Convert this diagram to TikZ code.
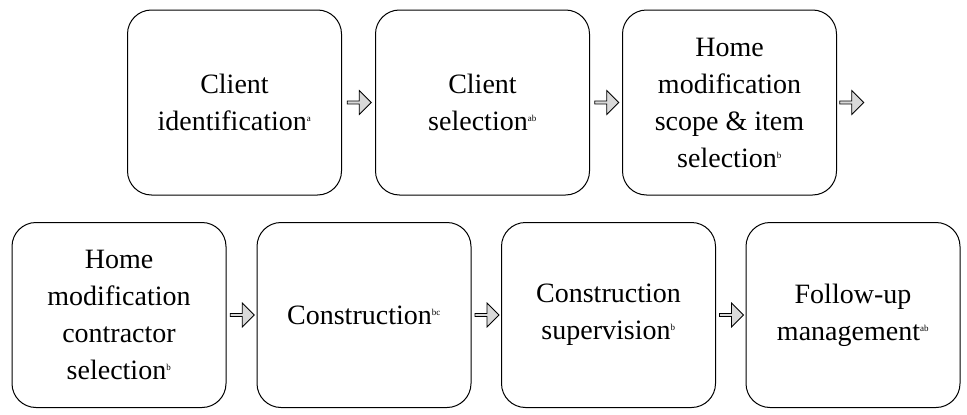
\documentclass[tikz,border=0pt]{standalone}
\usepackage{fontspec}
\setmainfont{Liberation Serif}
\usetikzlibrary{shapes.arrows,calc}
\begin{document}
\begin{tikzpicture}[x=1pt,y=-1pt,
  stage/.style={draw,line width=1pt,rounded corners=24pt,minimum width=214pt,minimum height=185pt,align=center,font=\fontsize{28}{37}\selectfont},
  barrow/.style={single arrow,draw,line width=0.8pt,fill=black!15,minimum width=24pt,single arrow head extend=3pt,minimum height=24pt,inner sep=0pt}]
\useasboundingbox (0,0) rectangle (967,415);
\node[stage] (a) at (234.5,102.5) {Client\\identification\textsuperscript{\small a}};
\node[stage] (b) at (482.5,102.5) {Client\\selection\textsuperscript{\small ab}};
\node[stage] (c) at (729.5,102.5) {Home\\modification\\scope \& item\\selection\textsuperscript{\small b}};
\node[stage] (d) at (119,315) {Home\\modification\\contractor\\selection\textsuperscript{\small b}};
\node[stage] (e) at (364,315) {Construction\textsuperscript{\small bc}};
\node[stage] (f) at (608.5,315) {Construction\\supervision\textsuperscript{\small b}};
\node[stage] (g) at (853,315) {Follow-up\\management\textsuperscript{\small ab}};
\node[barrow] (ab) at ($(a.east)!0.5!(b.west)$) {};
\node[barrow] (bc) at ($(b.east)!0.5!(c.west)$) {};
\node[barrow] (cx) at ($(c.east)+(14,0)$) {};
\node[barrow] (de) at ($(d.east)!0.5!(e.west)$) {};
\node[barrow] (ef) at ($(e.east)!0.5!(f.west)$) {};
\node[barrow] (fg) at ($(f.east)!0.5!(g.west)$) {};
\end{tikzpicture}
\end{document}
